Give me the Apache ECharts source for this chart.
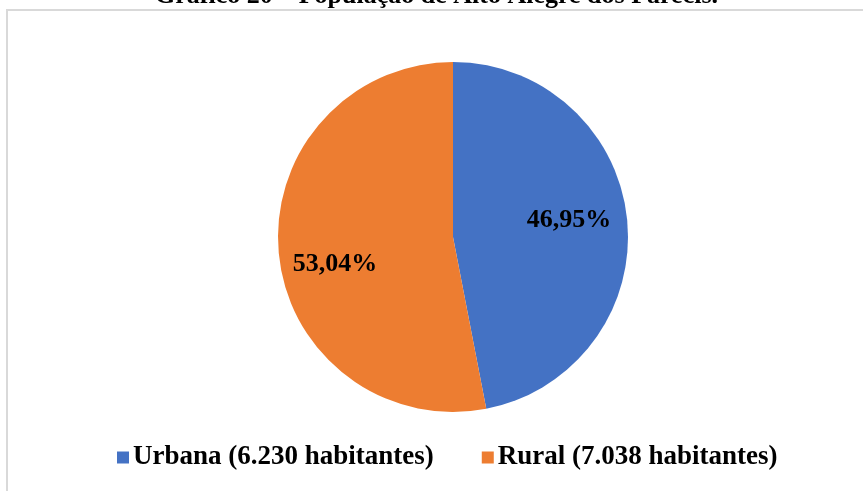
<!DOCTYPE html>
<html>
<head>
<meta charset="utf-8">
<script src="https://cdn.jsdelivr.net/npm/echarts@6/dist/echarts.min.js"></script>
<style>
  html, body { margin: 0; padding: 0; background: #fff; }
  #chart { width: 863px; height: 491px; }
</style>
</head>
<body>
<div id="chart"></div>
<script>
// dados
var categorias = ["Urbana (6.230 habitantes)", "Rural (7.038 habitantes)"];
var habitantes = [6230, 7038];
var rotulos = ["46,95%", "53,04%"];
var cores = ["#4472C4", "#ED7D31"];

var fonte = "'Times New Roman', 'Liberation Serif', serif";

// ajuste da posição dos rótulos para ficar como no original
var paddings = [[0, 0, 0, 52], [0, 56, 0, 0]];
var offsets = [[0, -8], [0, 19]];

var dados = categorias.map(function (nome, i) {
  return {
    name: nome,
    value: habitantes[i],
    itemStyle: { color: cores[i] },
    label: { padding: paddings[i], offset: offsets[i] }
  };
});

var chart = echarts.init(document.getElementById("chart"));
chart.setOption({
  backgroundColor: "#fff",
  animation: false,
  title: {
    text: "Gráfico 20 – População de Alto Alegre dos Parecis.",
    left: 150,
    top: -22,
    textStyle: { fontFamily: fonte, fontSize: 26, fontWeight: "bold", color: "#000" }
  },
  graphic: [{
    type: "rect",
    z: -10,
    shape: { x: 7, y: 10, width: 900, height: 520 },
    style: { fill: "none", stroke: "#d9d9d9", lineWidth: 2 }
  }],
  legend: {
    data: categorias,
    left: 112,
    top: 439,
    itemWidth: 12,
    itemHeight: 12,
    itemGap: 48,
    icon: "rect",
    textStyle: { fontFamily: fonte, fontSize: 27, fontWeight: "bold", color: "#000", padding: [0, 0, 0, -1] }
  },
  series: [{
    type: "pie",
    center: [453, 237],
    radius: [0, 175],
    startAngle: 90,
    clockwise: true,
    label: {
      show: true,
      position: "inside",
      fontFamily: fonte,
      fontSize: 26,
      fontWeight: "bold",
      color: "#000",
      formatter: function (p) { return rotulos[p.dataIndex]; }
    },
    labelLine: { show: false },
    emphasis: { disabled: true },
    data: dados
  }]
});
</script>
</body>
</html>
